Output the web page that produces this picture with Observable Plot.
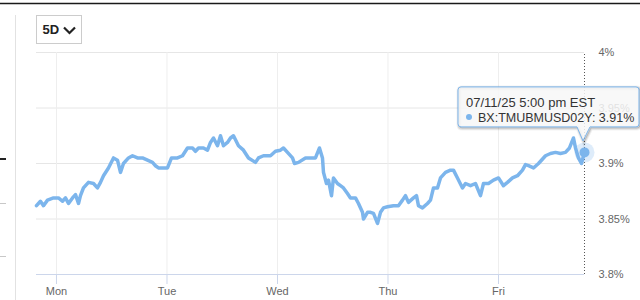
<!DOCTYPE html>
<html><head><meta charset="utf-8">
<script src="https://cdn.jsdelivr.net/npm/d3@7"></script>
<script src="https://cdn.jsdelivr.net/npm/@observablehq/plot@0.6"></script>
<style>html,body{margin:0;padding:0;background:#fff;} #chart svg{display:block;}</style>
</head><body><div id="chart"></div>
<script>
// hours since Monday 00:00 (chart local time)
const hours = [-4.34,-3.48,-2.82,-1.95,-0.65,0.43,1.30,1.95,2.61,3.48,4.13,4.78,5.21,5.86,6.95,8.04,8.90,9.56,10.21,11.29,12.38,13.25,13.90,14.55,15.64,16.51,17.59,18.68,19.76,20.85,21.50,22.15,23.24,24.11,24.98,26.28,27.37,28.45,29.54,30.19,30.84,31.93,32.80,33.45,34.10,34.97,35.62,36.27,37.14,37.79,38.44,39.53,40.61,41.70,43.22,43.87,44.96,46.48,47.56,48.65,49.30,50.17,51.26,51.69,52.56,54.08,55.17,56.25,57.12,57.77,57.99,58.64,59.08,59.73,60.16,61.03,61.68,62.33,63.20,63.85,64.94,65.59,66.46,66.68,67.55,68.20,68.85,69.72,70.37,71.02,71.89,73.19,74.28,75.15,75.80,76.45,77.54,78.19,78.62,79.49,80.58,81.23,81.88,82.75,83.40,84.49,85.57,86.22,87.09,88.18,88.83,89.92,91.00,92.09,92.74,93.83,94.91,96.00,97.08,97.95,99.04,100.13,101.21,101.86,102.52,103.60,104.69,106.21,107.29,108.38,109.46,110.55,111.42,112.29,112.72,113.37,114.02,114.68];
const yields = [3.862,3.866,3.862,3.867,3.869,3.869,3.866,3.869,3.864,3.869,3.872,3.864,3.871,3.878,3.883,3.882,3.878,3.883,3.889,3.896,3.905,3.903,3.892,3.900,3.905,3.907,3.905,3.905,3.903,3.901,3.898,3.896,3.896,3.896,3.905,3.905,3.907,3.914,3.914,3.911,3.914,3.914,3.912,3.919,3.923,3.916,3.925,3.916,3.919,3.923,3.925,3.916,3.912,3.905,3.901,3.905,3.907,3.907,3.911,3.912,3.914,3.910,3.905,3.900,3.901,3.905,3.905,3.905,3.914,3.905,3.892,3.882,3.885,3.871,3.887,3.882,3.880,3.878,3.873,3.869,3.869,3.864,3.856,3.850,3.856,3.856,3.855,3.846,3.856,3.860,3.861,3.862,3.862,3.867,3.871,3.865,3.869,3.871,3.862,3.860,3.864,3.867,3.878,3.878,3.887,3.892,3.894,3.894,3.887,3.878,3.882,3.880,3.882,3.871,3.882,3.882,3.885,3.887,3.880,3.883,3.887,3.889,3.894,3.899,3.898,3.896,3.900,3.907,3.909,3.910,3.909,3.910,3.914,3.923,3.914,3.905,3.900,3.910];
const dayStarts = [0, 24, 48, 72, 96];
const dayLabels = ["Mon", "Tue", "Wed", "Thu", "Fri"];
const yTicks = [3.8, 3.85, 3.9, 3.95, 4.0];
const yTickLabels = ["3.8%", "3.85%", "3.9%", "3.95%", "4%"];
const seriesName = "BX:TMUBMUSD02Y";
const lastValueLabel = "3.91%";
const tooltipTime = "07/11/25 5:00 pm EST";
const rangeLabel = "5D";

const data = hours.map((h, i) => ({h, v: yields[i]}));
const last = data[data.length - 1];
const color = "#7cb5ec";
const font = "'Liberation Sans', Arial, sans-serif";

const chart = Plot.plot({
  width: 640, height: 300,
  marginTop: 52, marginBottom: 26, marginLeft: 36, marginRight: 56,
  style: {fontFamily: font, fontSize: "11px", background: "#fff", overflow: "visible"},
  x: {domain: [hours[0], last.h], axis: null},
  y: {domain: [3.8, 4.0], axis: null},
  marks: [
    Plot.gridY(yTicks, {stroke: "#e6e6e6", strokeOpacity: 1}),
    Plot.gridX(dayStarts, {stroke: "#eeeeee", strokeOpacity: 1}),
    Plot.ruleY([3.8], {stroke: "#ccd6eb"}),
    Plot.axisX(dayStarts, {tickSize: 10, tickPadding: 3, stroke: "#ccd6eb", fill: "#666",
      tickFormat: d => dayLabels[dayStarts.indexOf(d)], label: null, fontSize: 11}),
    Plot.axisY(yTicks, {anchor: "right", tickSize: 0, tickPadding: 14, fill: "#666",
      tickFormat: d => yTickLabels[yTicks.indexOf(d)], label: null, fontSize: 11}),
    Plot.ruleX([last.h], {y1: 3.8, y2: 4.0, stroke: "#555", strokeDasharray: "1,2"}),
    Plot.line(data, {x: "h", y: "v", stroke: color, strokeWidth: 3.5, strokeLinejoin: "round", strokeLinecap: "round"}),
    Plot.dot([last], {x: "h", y: "v", r: 10, fill: color, fillOpacity: 0.25, stroke: null}),
    Plot.dot([last], {x: "h", y: "v", r: 5, fill: color, stroke: null})
  ]
});
document.getElementById("chart").appendChild(chart);

// decorations
const svg = d3.select(chart);
const xs = chart.scale("x"), ys = chart.scale("y");
const px = xs.apply(last.h), py = ys.apply(last.v);

// top dark line, left panel remnants
svg.append("line").attr("x1", 0).attr("x2", 640).attr("y1", 3.5).attr("y2", 3.5).attr("stroke", "#1a1a1a").attr("stroke-width", 1.6);
svg.append("line").attr("x1", 15.5).attr("x2", 15.5).attr("y1", 15).attr("y2", 300).attr("stroke", "#e2e2e2");
svg.append("line").attr("x1", 0).attr("x2", 6).attr("y1", 159).attr("y2", 159).attr("stroke", "#222").attr("stroke-width", 2);
[203.5, 256.5].forEach(y => svg.append("line").attr("x1", 0).attr("x2", 6).attr("y1", y).attr("y2", y).attr("stroke", "#c8c8c8"));

// range button
const btn = svg.append("g").attr("text-anchor", "start");
btn.append("rect").attr("x", 36.5).attr("y", 15.5).attr("width", 45).attr("height", 28).attr("fill", "#fff").attr("stroke", "#cccccc");
btn.append("text").attr("x", 42.5).attr("y", 34).attr("text-anchor", "start").attr("font-family", font).attr("font-size", 13).attr("font-weight", "bold").attr("fill", "#222").text(rangeLabel);
btn.append("path").attr("d", "M64,27.5 L69.5,33 L75,27.5").attr("fill", "none").attr("stroke", "#222").attr("stroke-width", 2.2);

// tooltip
const L = px - 126, R = Math.min(px + 55, 639.5), T = py - 65, B = py - 25, r = 3;
const tipX = px - 1, tipY = py - 11;
const pathD = `M${L + r},${T} H${R - r} Q${R},${T} ${R},${T + r} V${B - r} Q${R},${B} ${R - r},${B} H${px + 6} L${tipX},${tipY} L${px - 7},${B} H${L + r} Q${L},${B} ${L},${B - r} V${T + r} Q${L},${T} ${L + r},${T} Z`;
const tg = svg.append("g").attr("text-anchor", "start");
[5, 3, 1].forEach((w, i) => tg.append("path").attr("d", pathD).attr("transform", "translate(1,1)")
  .attr("fill", "none").attr("stroke", "#000").attr("stroke-opacity", [0.05, 0.1, 0.15][i]).attr("stroke-width", w));
tg.append("path").attr("d", pathD).attr("fill", "rgba(247,247,247,0.85)").attr("stroke", color).attr("stroke-width", 1);
tg.append("text").attr("x", L + 8).attr("y", T + 20).attr("text-anchor", "start").attr("font-family", font).attr("font-size", 13).attr("fill", "#333").text(tooltipTime);
tg.append("circle").attr("cx", L + 11).attr("cy", T + 30).attr("r", 3).attr("fill", color);
tg.append("text").attr("x", L + 20).attr("y", T + 35).attr("text-anchor", "start").attr("font-family", font).attr("font-size", 12.5).attr("fill", "#333").text(`${seriesName}: ${lastValueLabel}`);
</script>
</body></html>
